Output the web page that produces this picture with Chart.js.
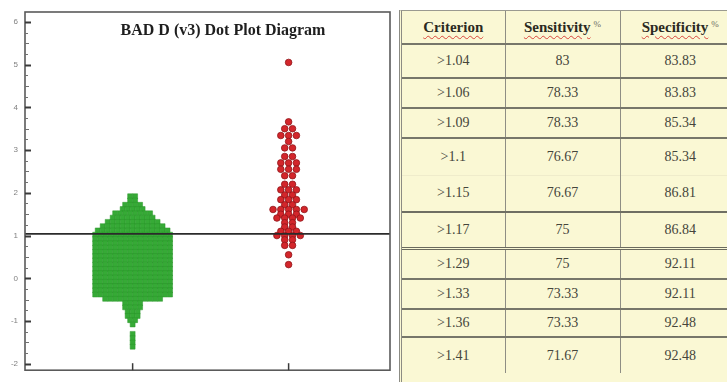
<!DOCTYPE html>
<html>
<head>
<meta charset="utf-8">
<script src="https://cdn.jsdelivr.net/npm/chart.js@4/dist/chart.umd.min.js"></script>
<style>
  html, body { margin: 0; padding: 0; width: 727px; height: 382px; overflow: hidden; background: #fff; }
  #plotBox { position: absolute; left: 0; top: 0; width: 397px; height: 382px; }
  #tableBox {
    position: absolute; left: 399px; top: 10px; width: 340px; height: 372px;
    border-left: 3px double #8c8c84; border-top: 1px solid #9a9a90;
    background: #faf8d4; overflow: hidden;
  }
  #cutoffTable { border-collapse: collapse; table-layout: fixed; font-family: "Liberation Serif", "Times New Roman", serif; }
  #cutoffTable td, #cutoffTable th { padding: 0; text-align: center; vertical-align: middle; }
  #cutoffTable th { font-size: 15px; font-weight: bold; color: #2a2a22; }
  #cutoffTable th .word { text-decoration: underline wavy #d8453c; text-decoration-thickness: 1px; text-underline-offset: 3px; }
  #cutoffTable th .pct { font-size: 9px; font-weight: normal; color: #6a6a60; vertical-align: 5px; margin-left: 3px; }
  #cutoffTable td { font-size: 14px; color: #45453b; }
  #cutoffTable td + td, #cutoffTable th + th { border-left: 1px solid #8e8e84; }
</style>
</head>
<body>
<div id="plotBox"><canvas id="dotPlot" width="397" height="382"></canvas></div>
<div id="tableBox"><table id="cutoffTable"></table></div>
<script>
// Group names (x categories)
const groups = ['Normal', 'Keratoconus'];

// Normal eyes: BAD D levels and how many eyes fall on each level
const normalLevels = [1.92, 1.82, 1.72, 1.62, 1.52, 1.42, 1.32, 1.22, 1.12,
  1.02, 0.92, 0.82, 0.72, 0.62, 0.52, 0.42, 0.32, 0.22, 0.12, 0.02, -0.08, -0.18, -0.28, -0.38,
  -0.48, -0.58, -0.68, -0.78, -0.88, -0.98, -1.08, -1.3, -1.4, -1.5, -1.6];
const normalCounts = [2, 2, 4, 5, 8, 9, 11, 13, 15,
  16, 16, 16, 16, 16, 16, 16, 16, 16, 16, 16, 16, 16, 16, 16,
  12, 4, 4, 3, 3, 2, 1, 1, 1, 1, 1];

// Keratoconus eyes: BAD D levels and counts
const kcLevels = [5.05, 3.66, 3.5, 3.34, 3.2, 3.05, 2.85, 2.7, 2.55, 2.4, 2.2, 2.07, 1.95, 1.84,
  1.72, 1.61, 1.5, 1.41, 1.3, 1.2, 1.1, 1.0, 0.9, 0.77, 0.55, 0.32];
const kcCounts = [1, 1, 2, 3, 1, 2, 2, 3, 3, 2, 2, 3, 2, 3,
  2, 5, 3, 4, 2, 2, 3, 4, 2, 2, 1, 1];

// Cut-off drawn across the plot
const cutoff = 1.04;

// Criterion table
const criteria = ['>1.04', '>1.06', '>1.09', '>1.1', '>1.15', '>1.17', '>1.29', '>1.33', '>1.36', '>1.41'];
const sensitivity = ['83', '78.33', '78.33', '76.67', '76.67', '75', '75', '73.33', '73.33', '71.67'];
const specificity = ['83.83', '83.83', '85.34', '85.34', '86.81', '86.84', '92.11', '92.11', '92.48', '92.48'];
const tableHeaders = ['Criterion', 'Sensitivity', 'Specificity'];

// ---- table layout ----
const colWidths = [103, 115, 120];
const headerHeight = 33;
const rowHeights = [34, 30, 30, 37, 37, 36, 31, 30, 28, 36];
const rowRule = ['2px solid #77776a', '2px solid #77776a', '2px solid #77776a', '2px solid #77776a',
  '1px solid #efeccb', '2px solid #6f6f63', '3px double #6a6a5e', '2px solid #77776a', '2px solid #77776a', '2px solid #77776a'];

(function buildTable() {
  const t = document.getElementById('cutoffTable');
  const cg = document.createElement('colgroup');
  colWidths.forEach(w => { const c = document.createElement('col'); c.style.width = w + 'px'; cg.appendChild(c); });
  t.appendChild(cg);
  let tw = 0; colWidths.forEach(w => tw += w); t.style.width = tw + 'px';
  const hr = document.createElement('tr');
  hr.style.height = headerHeight + 'px';
  tableHeaders.forEach((h, i) => {
    const th = document.createElement('th');
    const w = document.createElement('span'); w.className = 'word'; w.textContent = h; th.appendChild(w);
    if (i > 0) { const p = document.createElement('span'); p.className = 'pct'; p.textContent = '%'; th.appendChild(p); }
    hr.appendChild(th);
  });
  t.appendChild(hr);
  criteria.forEach((c, r) => {
    const tr = document.createElement('tr');
    tr.style.height = rowHeights[r] + 'px';
    [c, sensitivity[r], specificity[r]].forEach(v => {
      const td = document.createElement('td');
      td.textContent = v;
      td.style.borderTop = rowRule[r];
      tr.appendChild(td);
    });
    t.appendChild(tr);
  });
})();

// ---- dot plot ----
// Eyes sharing a level are laid side by side, centred on their group.
function spread(levels, counts, center, gap) {
  const pts = [];
  levels.forEach((v, k) => {
    const n = counts[k];
    for (let i = 0; i < n; i++) pts.push({ x: center + (i - (n - 1) / 2) * gap, y: v });
  });
  return pts;
}

const framePlugin = {
  id: 'frameAndMarks',
  afterDatasetsDraw(chart) {
    const { ctx, chartArea: a, scales: { y } } = chart;
    ctx.save();
    // cut-off line
    const yc = y.getPixelForValue(cutoff);
    ctx.strokeStyle = '#2b2b2b';
    ctx.lineWidth = 1.6;
    ctx.beginPath(); ctx.moveTo(a.left, yc); ctx.lineTo(a.right, yc); ctx.stroke();
    ctx.restore();
  },
  afterDraw(chart) {
    const { ctx, chartArea: a, scales: { x, y } } = chart;
    ctx.save();
    // plot frame
    ctx.strokeStyle = '#5a5a5a';
    ctx.lineWidth = 1.6;
    ctx.strokeRect(a.left, a.top, a.right - a.left, a.bottom - a.top);
    // inward y ticks
    y.ticks.forEach(t => {
      const v = t.value;
      const q = v * 4;
      if (Math.abs(q - Math.round(q)) > 1e-6) return;
      const py = Math.round(y.getPixelForValue(v)) + 0.5;
      const major = Math.abs(v - Math.round(v)) < 1e-6;
      const half = !major && Math.abs(v * 2 - Math.round(v * 2)) < 1e-6;
      ctx.strokeStyle = major ? '#3a3a3a' : '#707070';
      ctx.lineWidth = major ? 2 : 1;
      ctx.beginPath();
      ctx.moveTo(a.left, py);
      ctx.lineTo(a.left + (major ? 6 : half ? 4 : 3), py);
      ctx.stroke();
    });
    // group ticks on the bottom edge
    ctx.strokeStyle = '#3a3a3a';
    ctx.lineWidth = 1.5;
    [1, 2].forEach(g => {
      const px = x.getPixelForValue(g);
      ctx.beginPath(); ctx.moveTo(px, a.bottom); ctx.lineTo(px, a.bottom - 7); ctx.stroke();
    });
    // title
    ctx.fillStyle = '#1e1e1e';
    ctx.font = 'bold 16px "Liberation Serif", "Times New Roman", serif';
    ctx.textAlign = 'center';
    ctx.textBaseline = 'middle';
    ctx.fillText('BAD D (v3) Dot Plot Diagram', 223, 31);
    ctx.restore();
  }
};

new Chart(document.getElementById('dotPlot'), {
  type: 'scatter',
  data: {
    datasets: [
      {
        label: groups[0],
        data: spread(normalLevels, normalCounts, 1, 0.032),
        pointStyle: 'rect',
        pointRadius: 3.5,
        backgroundColor: '#36aa36',
        borderColor: '#2c972c',
        borderWidth: 0.5
      },
      {
        label: groups[1],
        data: spread(kcLevels, kcCounts, 2, 0.05),
        pointStyle: 'circle',
        pointRadius: 3.3,
        backgroundColor: '#d3262b',
        borderColor: '#901519',
        borderWidth: 0.8
      }
    ]
  },
  options: {
    responsive: false,
    animation: false,
    layout: { padding: { top: 12, right: 7, bottom: 4, left: 0 } },
    plugins: { legend: { display: false }, tooltip: { enabled: false } },
    scales: {
      x: { type: 'linear', display: false, min: 0.31, max: 2.65 },
      y: {
        min: -2.15, max: 6.23,
        afterFit(s) { s.width = 25; },
        grid: { display: false, drawTicks: false },
        border: { display: false },
        ticks: {
          stepSize: 0.25, autoSkip: false, includeBounds: false, padding: 7, color: '#808080',
          font: { size: 8, family: 'Liberation Sans' },
          callback(v) { return Math.abs(v - Math.round(v)) < 1e-6 ? String(Math.round(v)) : ''; }
        }
      }
    }
  },
  plugins: [framePlugin]
});
</script>
</body>
</html>
